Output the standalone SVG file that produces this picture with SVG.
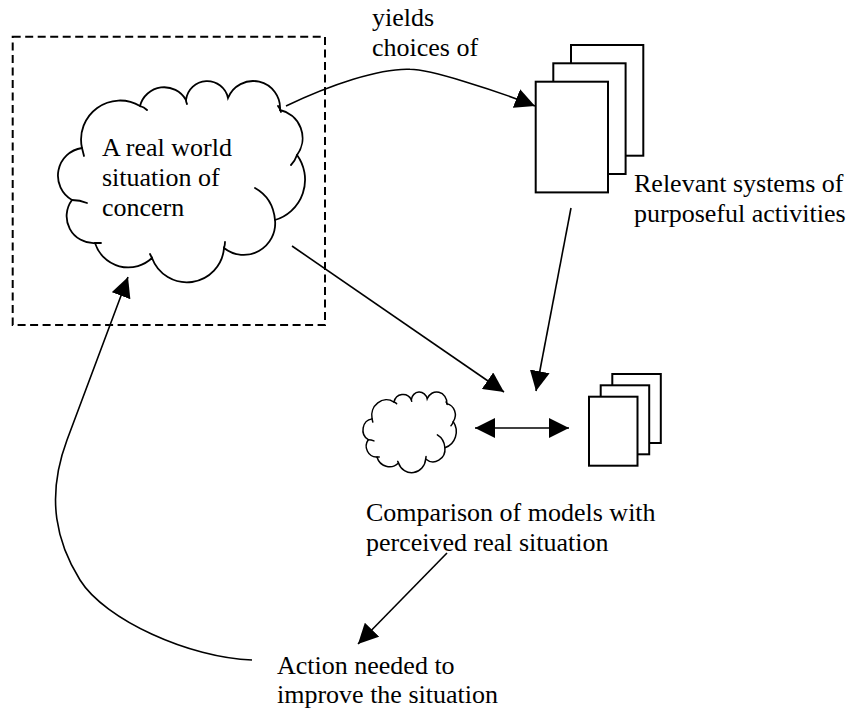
<svg xmlns="http://www.w3.org/2000/svg" xmlns:xlink="http://www.w3.org/1999/xlink" width="851" height="711" viewBox="0 0 851 711">
<style>
.t{font-family:"Liberation Serif","Times New Roman",serif;font-size:26px;fill:#000}
.c{fill:none;stroke:#000;stroke-width:1.6}
.pg{fill:#fff;stroke:#000;stroke-width:2}
.cl{fill:none;stroke:#000;vector-effect:non-scaling-stroke;stroke-linecap:round}
.clf{fill:#fff;stroke:#000;vector-effect:non-scaling-stroke}
</style>
<defs>
<marker id="ah" viewBox="0 0 20 20" refX="20" refY="10" markerWidth="20" markerHeight="20" markerUnits="userSpaceOnUse" orient="auto-start-reverse">
<path d="M0,0 L20,10 L0,20 z" fill="#000"/>
</marker>
<g id="cloud">
<path class="clf" d="M72,200 A28,28 0 0 1 82,148 A39,39 0 0 1 140,106 A25,25 0 0 1 186,100 A21.3,21.3 0 0 1 228,98 A27,27 0 0 1 280,110 A28.7,28.7 0 0 1 297,155 A42,42 0 0 1 275,220 A31.5,31.5 0 0 1 224,248 A37.2,37.2 0 0 1 152,258 A34.8,34.8 0 0 1 95,243 A26.9,26.9 0 0 1 72,200 Z"/>
<path class="cl" d="M72,200 Q80,200 87,203 M82,148 Q83,152 84,156 M140,106 Q144,107 147,110 M186,100 Q186,102 187,104 M278,106 Q280,108 281,112 M297,155 Q295,161 291,165 M255,188 Q273,198 275,220 M224,248 Q225,245 225,242 M152,258 Q151,256 150,254 M95,243 Q98,243 101,243"/>
</g>
</defs>

<g id="situation">
<rect x="12.7" y="36.7" width="312.3" height="288.3" fill="none" stroke="#000" stroke-width="2" stroke-dasharray="8 4.5"/>
<use xlink:href="#cloud" href="#cloud" stroke-width="1.8"/>
<text class="t" x="102" y="155.5">A real world</text>
<text class="t" x="102" y="186">situation of</text>
<text class="t" x="102" y="216">concern</text>
</g>

<g id="relevant-systems">
<rect class="pg" x="571" y="45" width="72.3" height="110.7"/>
<rect class="pg" x="553.3" y="63.3" width="72.3" height="110.7"/>
<rect class="pg" x="535.7" y="81.7" width="72.3" height="110.7"/>
<text class="t" x="634" y="192">Relevant systems of</text>
<text class="t" x="634" y="222">purposeful activities</text>
</g>

<g id="comparison">
<use xlink:href="#cloud" href="#cloud" stroke-width="1.5" transform="translate(363,392) scale(0.3775,0.401) translate(-58,-81)"/>
<rect class="pg" x="612.3" y="374" width="48.5" height="69"/>
<rect class="pg" x="600.7" y="385.3" width="48.5" height="69"/>
<rect class="pg" x="589" y="396.7" width="48.5" height="69"/>
<text class="t" x="366" y="521">Comparison of models with</text>
<text class="t" x="366" y="551">perceived real situation</text>
</g>

<g id="action">
<text class="t" x="277" y="674">Action needed to</text>
<text class="t" x="277" y="703">improve the situation</text>
</g>

<g id="yields-label">
<text class="t" x="372" y="26">yields</text>
<text class="t" x="372" y="56">choices of</text>
</g>

<g id="connectors">
<path class="c" d="M286,106 C330,85 380,68 410,69.3 C430,69.3 495,90 535,106" marker-end="url(#ah)"/>
<path class="c" d="M292,246 L504,392" marker-end="url(#ah)"/>
<path class="c" d="M571,208 L536,391" marker-end="url(#ah)"/>
<path class="c" d="M475,428 L569,428" marker-start="url(#ah)" marker-end="url(#ah)"/>
<path class="c" d="M447,553 L358,644" marker-end="url(#ah)"/>
<path class="c" d="M252,660 C190,658 105,620 80,580 C57.5,544 45,499 67,440 L128,277" marker-end="url(#ah)"/>
</g>
</svg>
